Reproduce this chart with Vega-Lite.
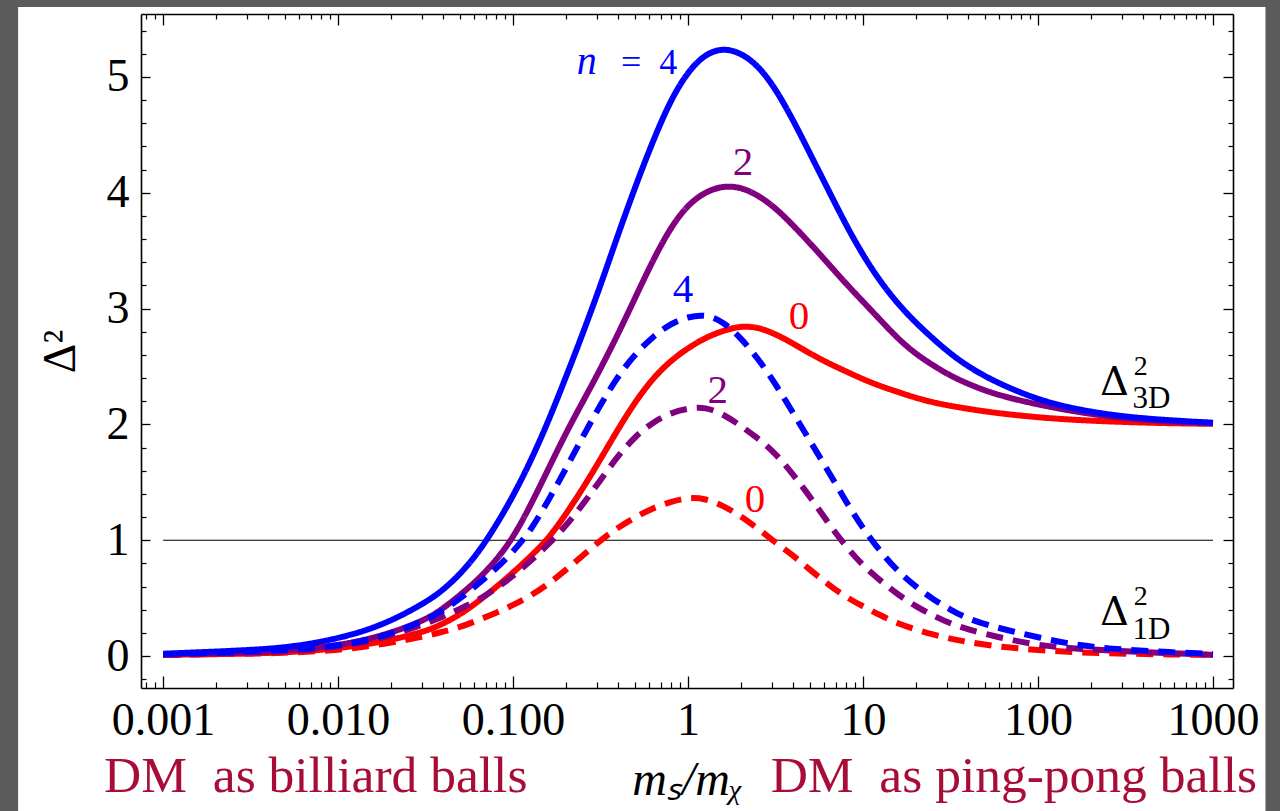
{
  "$schema": "https://vega.github.io/schema/vega-lite/v6.json",
  "width": 1092,
  "height": 674,
  "autosize": {"type": "none"},
  "padding": {"left": 141, "top": 14, "right": 47, "bottom": 123},
  "background": "white",
  "config": {
    "view": {"stroke": null},
    "axis": {"zindex": 1, "grid": false},
    "text": {"font": "Liberation Serif, Times New Roman, serif"}
  },
  "datasets": {
    "curves": [
      {"series":"3D n=0","x":0.001,"y":0.01},{"series":"3D n=0","x":0.003162,"y":0.02},{"series":"3D n=0","x":0.005623,"y":0.035},{"series":"3D n=0","x":0.01,"y":0.065},{"series":"3D n=0","x":0.01778,"y":0.12},{"series":"3D n=0","x":0.03162,"y":0.21},{"series":"3D n=0","x":0.03981,"y":0.28},{"series":"3D n=0","x":0.05012,"y":0.36},{"series":"3D n=0","x":0.0631,"y":0.47},{"series":"3D n=0","x":0.07943,"y":0.59},{"series":"3D n=0","x":0.1,"y":0.72},{"series":"3D n=0","x":0.1259,"y":0.86},{"series":"3D n=0","x":0.1585,"y":1.01},{"series":"3D n=0","x":0.1995,"y":1.22},{"series":"3D n=0","x":0.2512,"y":1.45},{"series":"3D n=0","x":0.3162,"y":1.7},{"series":"3D n=0","x":0.3981,"y":1.96},{"series":"3D n=0","x":0.5012,"y":2.2},{"series":"3D n=0","x":0.631,"y":2.4},{"series":"3D n=0","x":0.7943,"y":2.55},{"series":"3D n=0","x":1,"y":2.66},{"series":"3D n=0","x":1.259,"y":2.75},{"series":"3D n=0","x":1.585,"y":2.81},{"series":"3D n=0","x":1.995,"y":2.85},{"series":"3D n=0","x":2.512,"y":2.84},{"series":"3D n=0","x":3.162,"y":2.78},{"series":"3D n=0","x":3.981,"y":2.7},{"series":"3D n=0","x":5.012,"y":2.61},{"series":"3D n=0","x":6.31,"y":2.53},{"series":"3D n=0","x":7.943,"y":2.46},{"series":"3D n=0","x":10,"y":2.39},{"series":"3D n=0","x":12.59,"y":2.33},{"series":"3D n=0","x":15.85,"y":2.28},{"series":"3D n=0","x":19.95,"y":2.23},{"series":"3D n=0","x":25.12,"y":2.19},{"series":"3D n=0","x":31.62,"y":2.16},{"series":"3D n=0","x":39.81,"y":2.135},{"series":"3D n=0","x":56.23,"y":2.1},{"series":"3D n=0","x":100,"y":2.06},{"series":"3D n=0","x":177.8,"y":2.035},{"series":"3D n=0","x":316.2,"y":2.02},{"series":"3D n=0","x":562.3,"y":2.01},{"series":"3D n=0","x":1000,"y":2.005},
      {"series":"3D n=2","x":0.001,"y":0.015},{"series":"3D n=2","x":0.003162,"y":0.03},{"series":"3D n=2","x":0.005623,"y":0.05},{"series":"3D n=2","x":0.01,"y":0.09},{"series":"3D n=2","x":0.01778,"y":0.17},{"series":"3D n=2","x":0.03162,"y":0.31},{"series":"3D n=2","x":0.03981,"y":0.41},{"series":"3D n=2","x":0.05012,"y":0.53},{"series":"3D n=2","x":0.0631,"y":0.66},{"series":"3D n=2","x":0.07943,"y":0.82},{"series":"3D n=2","x":0.1,"y":1.02},{"series":"3D n=2","x":0.1259,"y":1.3},{"series":"3D n=2","x":0.1585,"y":1.61},{"series":"3D n=2","x":0.1995,"y":1.92},{"series":"3D n=2","x":0.2512,"y":2.2},{"series":"3D n=2","x":0.3162,"y":2.48},{"series":"3D n=2","x":0.3981,"y":2.78},{"series":"3D n=2","x":0.5012,"y":3.1},{"series":"3D n=2","x":0.631,"y":3.42},{"series":"3D n=2","x":0.7943,"y":3.7},{"series":"3D n=2","x":1,"y":3.9},{"series":"3D n=2","x":1.259,"y":4.01},{"series":"3D n=2","x":1.585,"y":4.06},{"series":"3D n=2","x":1.995,"y":4.05},{"series":"3D n=2","x":2.512,"y":3.98},{"series":"3D n=2","x":3.162,"y":3.87},{"series":"3D n=2","x":3.981,"y":3.72},{"series":"3D n=2","x":5.012,"y":3.56},{"series":"3D n=2","x":6.31,"y":3.39},{"series":"3D n=2","x":7.943,"y":3.22},{"series":"3D n=2","x":10,"y":3.06},{"series":"3D n=2","x":12.59,"y":2.9},{"series":"3D n=2","x":15.85,"y":2.74},{"series":"3D n=2","x":19.95,"y":2.61},{"series":"3D n=2","x":25.12,"y":2.51},{"series":"3D n=2","x":31.62,"y":2.42},{"series":"3D n=2","x":39.81,"y":2.35},{"series":"3D n=2","x":56.23,"y":2.26},{"series":"3D n=2","x":100,"y":2.17},{"series":"3D n=2","x":177.8,"y":2.1},{"series":"3D n=2","x":316.2,"y":2.05},{"series":"3D n=2","x":562.3,"y":2.025},{"series":"3D n=2","x":1000,"y":2.01},
      {"series":"3D n=4","x":0.001,"y":0.02},{"series":"3D n=4","x":0.003162,"y":0.05},{"series":"3D n=4","x":0.005623,"y":0.08},{"series":"3D n=4","x":0.01,"y":0.15},{"series":"3D n=4","x":0.01778,"y":0.26},{"series":"3D n=4","x":0.03162,"y":0.46},{"series":"3D n=4","x":0.03981,"y":0.57},{"series":"3D n=4","x":0.05012,"y":0.71},{"series":"3D n=4","x":0.0631,"y":0.89},{"series":"3D n=4","x":0.07943,"y":1.12},{"series":"3D n=4","x":0.1,"y":1.38},{"series":"3D n=4","x":0.1259,"y":1.68},{"series":"3D n=4","x":0.1585,"y":2.02},{"series":"3D n=4","x":0.1995,"y":2.4},{"series":"3D n=4","x":0.2512,"y":2.79},{"series":"3D n=4","x":0.3162,"y":3.2},{"series":"3D n=4","x":0.3981,"y":3.64},{"series":"3D n=4","x":0.5012,"y":4.06},{"series":"3D n=4","x":0.631,"y":4.45},{"series":"3D n=4","x":0.7943,"y":4.8},{"series":"3D n=4","x":1,"y":5.05},{"series":"3D n=4","x":1.259,"y":5.2},{"series":"3D n=4","x":1.585,"y":5.25},{"series":"3D n=4","x":1.995,"y":5.21},{"series":"3D n=4","x":2.512,"y":5.1},{"series":"3D n=4","x":3.162,"y":4.9},{"series":"3D n=4","x":3.981,"y":4.63},{"series":"3D n=4","x":5.012,"y":4.33},{"series":"3D n=4","x":6.31,"y":4.03},{"series":"3D n=4","x":7.943,"y":3.73},{"series":"3D n=4","x":10,"y":3.46},{"series":"3D n=4","x":12.59,"y":3.23},{"series":"3D n=4","x":15.85,"y":3.04},{"series":"3D n=4","x":19.95,"y":2.88},{"series":"3D n=4","x":25.12,"y":2.74},{"series":"3D n=4","x":31.62,"y":2.61},{"series":"3D n=4","x":39.81,"y":2.5},{"series":"3D n=4","x":56.23,"y":2.37},{"series":"3D n=4","x":100,"y":2.21},{"series":"3D n=4","x":177.8,"y":2.12},{"series":"3D n=4","x":316.2,"y":2.065},{"series":"3D n=4","x":562.3,"y":2.035},{"series":"3D n=4","x":1000,"y":2.015},
      {"series":"1D n=0","x":0.001,"y":0.01},{"series":"1D n=0","x":0.003162,"y":0.02},{"series":"1D n=0","x":0.005623,"y":0.03},{"series":"1D n=0","x":0.01,"y":0.05},{"series":"1D n=0","x":0.01778,"y":0.1},{"series":"1D n=0","x":0.03162,"y":0.17},{"series":"1D n=0","x":0.03981,"y":0.21},{"series":"1D n=0","x":0.05012,"y":0.25},{"series":"1D n=0","x":0.0631,"y":0.31},{"series":"1D n=0","x":0.07943,"y":0.37},{"series":"1D n=0","x":0.1,"y":0.44},{"series":"1D n=0","x":0.1259,"y":0.52},{"series":"1D n=0","x":0.1585,"y":0.62},{"series":"1D n=0","x":0.1995,"y":0.74},{"series":"1D n=0","x":0.2512,"y":0.87},{"series":"1D n=0","x":0.3162,"y":1.0},{"series":"1D n=0","x":0.3981,"y":1.11},{"series":"1D n=0","x":0.5012,"y":1.2},{"series":"1D n=0","x":0.631,"y":1.28},{"series":"1D n=0","x":0.7943,"y":1.33},{"series":"1D n=0","x":1,"y":1.37},{"series":"1D n=0","x":1.259,"y":1.36},{"series":"1D n=0","x":1.585,"y":1.3},{"series":"1D n=0","x":1.995,"y":1.21},{"series":"1D n=0","x":2.512,"y":1.1},{"series":"1D n=0","x":3.162,"y":0.98},{"series":"1D n=0","x":3.981,"y":0.87},{"series":"1D n=0","x":5.012,"y":0.74},{"series":"1D n=0","x":6.31,"y":0.62},{"series":"1D n=0","x":7.943,"y":0.51},{"series":"1D n=0","x":10,"y":0.43},{"series":"1D n=0","x":12.59,"y":0.35},{"series":"1D n=0","x":15.85,"y":0.28},{"series":"1D n=0","x":19.95,"y":0.23},{"series":"1D n=0","x":25.12,"y":0.185},{"series":"1D n=0","x":31.62,"y":0.15},{"series":"1D n=0","x":39.81,"y":0.12},{"series":"1D n=0","x":56.23,"y":0.085},{"series":"1D n=0","x":100,"y":0.05},{"series":"1D n=0","x":177.8,"y":0.03},{"series":"1D n=0","x":316.2,"y":0.02},{"series":"1D n=0","x":562.3,"y":0.014},{"series":"1D n=0","x":1000,"y":0.01},
      {"series":"1D n=2","x":0.001,"y":0.012},{"series":"1D n=2","x":0.003162,"y":0.03},{"series":"1D n=2","x":0.005623,"y":0.045},{"series":"1D n=2","x":0.01,"y":0.075},{"series":"1D n=2","x":0.01778,"y":0.15},{"series":"1D n=2","x":0.03162,"y":0.28},{"series":"1D n=2","x":0.03981,"y":0.34},{"series":"1D n=2","x":0.05012,"y":0.41},{"series":"1D n=2","x":0.0631,"y":0.48},{"series":"1D n=2","x":0.07943,"y":0.58},{"series":"1D n=2","x":0.1,"y":0.69},{"series":"1D n=2","x":0.1259,"y":0.82},{"series":"1D n=2","x":0.1585,"y":0.96},{"series":"1D n=2","x":0.1995,"y":1.12},{"series":"1D n=2","x":0.2512,"y":1.31},{"series":"1D n=2","x":0.3162,"y":1.52},{"series":"1D n=2","x":0.3981,"y":1.73},{"series":"1D n=2","x":0.5012,"y":1.9},{"series":"1D n=2","x":0.631,"y":2.02},{"series":"1D n=2","x":0.7943,"y":2.1},{"series":"1D n=2","x":1,"y":2.14},{"series":"1D n=2","x":1.259,"y":2.15},{"series":"1D n=2","x":1.585,"y":2.09},{"series":"1D n=2","x":1.995,"y":1.99},{"series":"1D n=2","x":2.512,"y":1.88},{"series":"1D n=2","x":3.162,"y":1.75},{"series":"1D n=2","x":3.981,"y":1.57},{"series":"1D n=2","x":5.012,"y":1.37},{"series":"1D n=2","x":6.31,"y":1.15},{"series":"1D n=2","x":7.943,"y":0.95},{"series":"1D n=2","x":10,"y":0.78},{"series":"1D n=2","x":12.59,"y":0.65},{"series":"1D n=2","x":15.85,"y":0.53},{"series":"1D n=2","x":19.95,"y":0.43},{"series":"1D n=2","x":25.12,"y":0.35},{"series":"1D n=2","x":31.62,"y":0.28},{"series":"1D n=2","x":39.81,"y":0.23},{"series":"1D n=2","x":56.23,"y":0.17},{"series":"1D n=2","x":100,"y":0.09},{"series":"1D n=2","x":177.8,"y":0.06},{"series":"1D n=2","x":316.2,"y":0.04},{"series":"1D n=2","x":562.3,"y":0.025},{"series":"1D n=2","x":1000,"y":0.01},
      {"series":"1D n=4","x":0.001,"y":0.015},{"series":"1D n=4","x":0.003162,"y":0.035},{"series":"1D n=4","x":0.005623,"y":0.055},{"series":"1D n=4","x":0.01,"y":0.085},{"series":"1D n=4","x":0.01778,"y":0.16},{"series":"1D n=4","x":0.03162,"y":0.31},{"series":"1D n=4","x":0.03981,"y":0.39},{"series":"1D n=4","x":0.05012,"y":0.5},{"series":"1D n=4","x":0.0631,"y":0.62},{"series":"1D n=4","x":0.07943,"y":0.75},{"series":"1D n=4","x":0.1,"y":0.9},{"series":"1D n=4","x":0.1259,"y":1.08},{"series":"1D n=4","x":0.1585,"y":1.34},{"series":"1D n=4","x":0.1995,"y":1.61},{"series":"1D n=4","x":0.2512,"y":1.9},{"series":"1D n=4","x":0.3162,"y":2.17},{"series":"1D n=4","x":0.3981,"y":2.42},{"series":"1D n=4","x":0.5012,"y":2.61},{"series":"1D n=4","x":0.631,"y":2.76},{"series":"1D n=4","x":0.7943,"y":2.87},{"series":"1D n=4","x":1,"y":2.93},{"series":"1D n=4","x":1.259,"y":2.95},{"series":"1D n=4","x":1.585,"y":2.89},{"series":"1D n=4","x":1.995,"y":2.75},{"series":"1D n=4","x":2.512,"y":2.57},{"series":"1D n=4","x":3.162,"y":2.35},{"series":"1D n=4","x":3.981,"y":2.1},{"series":"1D n=4","x":5.012,"y":1.85},{"series":"1D n=4","x":6.31,"y":1.6},{"series":"1D n=4","x":7.943,"y":1.34},{"series":"1D n=4","x":10,"y":1.1},{"series":"1D n=4","x":12.59,"y":0.9},{"series":"1D n=4","x":15.85,"y":0.73},{"series":"1D n=4","x":19.95,"y":0.6},{"series":"1D n=4","x":25.12,"y":0.49},{"series":"1D n=4","x":31.62,"y":0.4},{"series":"1D n=4","x":39.81,"y":0.32},{"series":"1D n=4","x":56.23,"y":0.25},{"series":"1D n=4","x":100,"y":0.16},{"series":"1D n=4","x":177.8,"y":0.085},{"series":"1D n=4","x":316.2,"y":0.055},{"series":"1D n=4","x":562.3,"y":0.033},{"series":"1D n=4","x":1000,"y":0.017}
    ],
    "curveLabels": [
      {"t": "2", "x": 2.06, "y": 4.154, "series": "3D n=2"},
      {"t": "4", "x": 0.936, "y": 3.057, "series": "1D n=4"},
      {"t": "0", "x": 4.31, "y": 2.824, "series": "3D n=0"},
      {"t": "2", "x": 1.48, "y": 2.185, "series": "1D n=2"},
      {"t": "0", "x": 2.41, "y": 1.244, "series": "1D n=0"}
    ],
    "deltaLabels": [
      {"t": "Δ", "k": "d", "x": 226, "y": 2.254},
      {"t": "Δ", "k": "d", "x": 226, "y": 0.268},
      {"t": "2", "k": "sup", "x": 352, "y": 2.43},
      {"t": "2", "k": "sup", "x": 352, "y": 0.44},
      {"t": "3D", "k": "sub", "x": 347, "y": 2.14},
      {"t": "1D", "k": "sub", "x": 347, "y": 0.15}
    ]
  },
  "resolve": {"axis": {"x": "independent", "y": "independent"}},
  "layer": [
    {
      "data": {"values": [{}]},
      "mark": {"type": "rect", "color": "#5b5b5b"},
      "encoding": {
        "x": {"datum": 0.000001, "type": "quantitative", "scale": {"type": "log", "domain": [0.000748, 1301], "nice": false}, "axis": null},
        "x2": {"datum": 0.0001484},
        "y": {"datum": 20, "type": "quantitative", "scale": {"type": "linear", "domain": [-0.276, 5.544], "nice": false, "zero": false}, "axis": null},
        "y2": {"datum": -10}
      }
    },
    {
      "data": {"values": [{}]},
      "mark": {"type": "rect", "color": "#5b5b5b"},
      "encoding": {
        "x": {"datum": 0.000001, "type": "quantitative", "scale": {"type": "log", "domain": [0.000748, 1301], "nice": false}, "axis": null},
        "x2": {"datum": 1000000},
        "y": {"datum": 20, "type": "quantitative", "scale": {"type": "linear", "domain": [-0.276, 5.544], "nice": false, "zero": false}, "axis": null},
        "y2": {"datum": 5.604}
      }
    },
    {
      "data": {"values": [{}]},
      "mark": {"type": "rect", "color": "#5b5b5b"},
      "encoding": {
        "x": {"datum": 1995, "type": "quantitative", "scale": {"type": "log", "domain": [0.000748, 1301], "nice": false}, "axis": null},
        "x2": {"datum": 1000000},
        "y": {"datum": 20, "type": "quantitative", "scale": {"type": "linear", "domain": [-0.276, 5.544], "nice": false, "zero": false}, "axis": null},
        "y2": {"datum": -10}
      }
    },
    {
      "data": {"values": [{}]},
      "mark": {"type": "rule", "color": "black", "strokeWidth": 1.2},
      "encoding": {
        "x": {"datum": 0.001, "type": "quantitative", "scale": {"type": "log", "domain": [0.000748, 1301], "nice": false},
          "axis": {"orient": "bottom", "values": [0.001, 0.01, 0.1, 1, 10, 100, 1000], "labels": false, "domain": false, "title": null, "ticks": true, "tickSize": 12, "offset": -12, "tickColor": "black", "tickWidth": 1.3}},
        "x2": {"datum": 1000},
        "y": {"datum": 1, "type": "quantitative", "scale": {"type": "linear", "domain": [-0.276, 5.544], "nice": false, "zero": false},
          "axis": {"orient": "left", "values": [0, 1, 2, 3, 4, 5], "labels": false, "domain": false, "title": null, "ticks": true, "tickSize": 9, "offset": -9, "tickColor": "black", "tickWidth": 1.3}}
      }
    },
    {
      "data": {"name": "curves"},
      "mark": {"type": "line", "strokeWidth": 6, "interpolate": "basis"},
      "encoding": {
        "x": {"field": "x", "type": "quantitative", "scale": {"type": "log", "domain": [0.000748, 1301], "nice": false},
          "axis": {"orient": "bottom", "values": [0.001, 0.01, 0.1, 1, 10, 100, 1000], "labelExpr": "datum.value < 1 ? format(datum.value, '.3f') : format(datum.value, 'd')", "ticks": false, "domain": true, "domainColor": "black", "domainWidth": 1.6, "labelFont": "Liberation Serif, Times New Roman, serif", "labelFontSize": 46, "labelColor": "black", "labelPadding": 10, "labelFlush": false, "labelOverlap": false, "title": "mₛ/mᵪ", "titleFont": "Liberation Serif, Times New Roman, serif", "titleFontStyle": "italic", "titleFontWeight": "normal", "titleFontSize": 48, "titleColor": "black", "titlePadding": 13}},
        "y": {"field": "y", "type": "quantitative", "scale": {"type": "linear", "domain": [-0.276, 5.544], "nice": false, "zero": false},
          "axis": {"orient": "left", "values": [0, 1, 2, 3, 4, 5], "ticks": false, "domain": true, "domainColor": "black", "domainWidth": 1.6, "labelFont": "Liberation Serif, Times New Roman, serif", "labelFontSize": 46, "labelColor": "black", "labelPadding": 12, "title": "Δ²", "titleFont": "Liberation Serif, Times New Roman, serif", "titleFontWeight": "normal", "titleFontSize": 46, "titleColor": "black", "titlePadding": 22}},
        "color": {"field": "series", "type": "nominal", "legend": null,
          "scale": {"domain": ["3D n=0", "3D n=2", "3D n=4", "1D n=0", "1D n=2", "1D n=4"], "range": ["#ff0000", "#800080", "#0000ff", "#ff0000", "#800080", "#0000ff"]}},
        "strokeDash": {"field": "series", "type": "nominal", "legend": null,
          "scale": {"domain": ["3D n=0", "3D n=2", "3D n=4", "1D n=0", "1D n=2", "1D n=4"], "range": [[1, 0], [1, 0], [1, 0], [17, 10], [17, 10], [17, 10]]}}
      }
    },
    {
      "data": {"name": "curveLabels"},
      "mark": {"type": "text", "fontSize": 41, "align": "center", "baseline": "alphabetic", "font": "Liberation Serif, Times New Roman, serif"},
      "encoding": {
        "x": {"field": "x", "type": "quantitative", "scale": {"type": "log", "domain": [0.000748, 1301], "nice": false},
          "axis": {"orient": "bottom", "values": [0.0008, 0.0009, 0.002, 0.003, 0.004, 0.005, 0.006, 0.007, 0.008, 0.009, 0.02, 0.03, 0.04, 0.05, 0.06, 0.07, 0.08, 0.09, 0.2, 0.3, 0.4, 0.5, 0.6, 0.7, 0.8, 0.9, 2, 3, 4, 5, 6, 7, 8, 9, 20, 30, 40, 50, 60, 70, 80, 90, 200, 300, 400, 500, 600, 700, 800, 900], "labels": false, "domain": false, "title": null, "ticks": true, "tickSize": 6, "offset": -6, "tickColor": "black", "tickWidth": 1.2}},
        "y": {"field": "y", "type": "quantitative", "scale": {"type": "linear", "domain": [-0.276, 5.544], "nice": false, "zero": false},
          "axis": {"orient": "left", "values": [-0.2, 0.2, 0.4, 0.6, 0.8, 1.2, 1.4, 1.6, 1.8, 2.2, 2.4, 2.6, 2.8, 3.2, 3.4, 3.6, 3.8, 4.2, 4.4, 4.6, 4.8, 5.2, 5.4], "labels": false, "domain": false, "title": null, "ticks": true, "tickSize": 5, "offset": -5, "tickColor": "black", "tickWidth": 1.2}},
        "text": {"field": "t", "type": "nominal"},
        "color": {"field": "series", "type": "nominal", "legend": null,
          "scale": {"domain": ["3D n=0", "3D n=2", "3D n=4", "1D n=0", "1D n=2", "1D n=4"], "range": ["#ff0000", "#800080", "#0000ff", "#ff0000", "#800080", "#0000ff"]}}
      }
    },
    {
      "data": {"values": [{}]},
      "mark": {"type": "text", "text": "n", "fontSize": 40, "fontStyle": "italic", "align": "center", "baseline": "alphabetic", "color": "#0000ff", "font": "Liberation Serif, Times New Roman, serif"},
      "encoding": {
        "x": {"datum": 0.264, "type": "quantitative", "scale": {"type": "log", "domain": [0.000748, 1301], "nice": false},
          "axis": {"orient": "top", "values": [0.001, 0.01, 0.1, 1, 10, 100, 1000], "labels": false, "domain": false, "title": null, "ticks": true, "tickSize": 11, "offset": -11, "tickColor": "black", "tickWidth": 1.3}},
        "y": {"datum": 5.026, "type": "quantitative", "scale": {"type": "linear", "domain": [-0.276, 5.544], "nice": false, "zero": false},
          "axis": {"orient": "right", "values": [0, 1, 2, 3, 4, 5], "labels": false, "domain": false, "title": null, "ticks": true, "tickSize": 10, "offset": -10, "tickColor": "black", "tickWidth": 1.3}}
      }
    },
    {
      "data": {"values": [{}]},
      "mark": {"type": "text", "text": "=\u00a0 4", "fontSize": 36, "align": "center", "baseline": "alphabetic", "color": "#0000ff", "font": "Liberation Serif, Times New Roman, serif"},
      "encoding": {
        "x": {"datum": 0.6, "type": "quantitative", "scale": {"type": "log", "domain": [0.000748, 1301], "nice": false}, "axis": null},
        "y": {"datum": 5.026, "type": "quantitative", "scale": {"type": "linear", "domain": [-0.276, 5.544], "nice": false, "zero": false}, "axis": null}
      }
    },
    {
      "data": {"name": "deltaLabels"},
      "transform": [{"filter": "datum.k == 'd'"}],
      "mark": {"type": "text", "fontSize": 40, "align": "left", "baseline": "alphabetic", "color": "black", "font": "DejaVu Serif, serif"},
      "encoding": {
        "x": {"field": "x", "type": "quantitative", "scale": {"type": "log", "domain": [0.000748, 1301], "nice": false},
          "axis": {"orient": "top", "values": [0.0008, 0.0009, 0.002, 0.003, 0.004, 0.005, 0.006, 0.007, 0.008, 0.009, 0.02, 0.03, 0.04, 0.05, 0.06, 0.07, 0.08, 0.09, 0.2, 0.3, 0.4, 0.5, 0.6, 0.7, 0.8, 0.9, 2, 3, 4, 5, 6, 7, 8, 9, 20, 30, 40, 50, 60, 70, 80, 90, 200, 300, 400, 500, 600, 700, 800, 900], "labels": false, "domain": false, "title": null, "ticks": true, "tickSize": 5, "offset": -5, "tickColor": "black", "tickWidth": 1.2}},
        "y": {"field": "y", "type": "quantitative", "scale": {"type": "linear", "domain": [-0.276, 5.544], "nice": false, "zero": false},
          "axis": {"orient": "right", "values": [-0.2, 0.2, 0.4, 0.6, 0.8, 1.2, 1.4, 1.6, 1.8, 2.2, 2.4, 2.6, 2.8, 3.2, 3.4, 3.6, 3.8, 4.2, 4.4, 4.6, 4.8, 5.2, 5.4], "labels": false, "domain": false, "title": null, "ticks": true, "tickSize": 5, "offset": -5, "tickColor": "black", "tickWidth": 1.2}},
        "text": {"field": "t", "type": "nominal"}
      }
    },
    {
      "data": {"name": "deltaLabels"},
      "transform": [{"filter": "datum.k == 'sup'"}],
      "mark": {"type": "text", "fontSize": 28, "align": "left", "baseline": "alphabetic", "color": "black", "font": "Liberation Serif, Times New Roman, serif"},
      "encoding": {
        "x": {"field": "x", "type": "quantitative", "scale": {"type": "log", "domain": [0.000748, 1301], "nice": false}, "axis": null},
        "y": {"field": "y", "type": "quantitative", "scale": {"type": "linear", "domain": [-0.276, 5.544], "nice": false, "zero": false}, "axis": null},
        "text": {"field": "t", "type": "nominal"}
      }
    },
    {
      "data": {"name": "deltaLabels"},
      "transform": [{"filter": "datum.k == 'sub'"}],
      "mark": {"type": "text", "fontSize": 31, "align": "left", "baseline": "alphabetic", "color": "black", "font": "Liberation Serif, Times New Roman, serif"},
      "encoding": {
        "x": {"field": "x", "type": "quantitative", "scale": {"type": "log", "domain": [0.000748, 1301], "nice": false}, "axis": null},
        "y": {"field": "y", "type": "quantitative", "scale": {"type": "linear", "domain": [-0.276, 5.544], "nice": false, "zero": false}, "axis": null},
        "text": {"field": "t", "type": "nominal"}
      }
    },
    {
      "data": {"values": [{}]},
      "mark": {"type": "text", "text": "DM\u00a0 as billiard balls", "fontSize": 51.5, "align": "left", "baseline": "alphabetic", "color": "#a80d38", "font": "Liberation Serif, Times New Roman, serif"},
      "encoding": {
        "x": {"datum": 0.00046, "type": "quantitative", "scale": {"type": "log", "domain": [0.000748, 1301], "nice": false},
          "axis": {"orient": "top", "labels": false, "ticks": false, "domain": true, "domainColor": "black", "domainWidth": 1.6, "title": null, "values": []}},
        "y": {"datum": -1.174, "type": "quantitative", "scale": {"type": "linear", "domain": [-0.276, 5.544], "nice": false, "zero": false},
          "axis": {"orient": "right", "labels": false, "ticks": false, "domain": true, "domainColor": "black", "domainWidth": 1.6, "title": null, "values": []}}
      }
    },
    {
      "data": {"values": [{}]},
      "mark": {"type": "text", "text": "DM\u00a0 as ping-pong balls", "fontSize": 51.5, "align": "right", "baseline": "alphabetic", "color": "#a80d38", "font": "Liberation Serif, Times New Roman, serif"},
      "encoding": {
        "x": {"datum": 1784, "type": "quantitative", "scale": {"type": "log", "domain": [0.000748, 1301], "nice": false}, "axis": null},
        "y": {"datum": -1.174, "type": "quantitative", "scale": {"type": "linear", "domain": [-0.276, 5.544], "nice": false, "zero": false}, "axis": null}
      }
    }
  ]
}
